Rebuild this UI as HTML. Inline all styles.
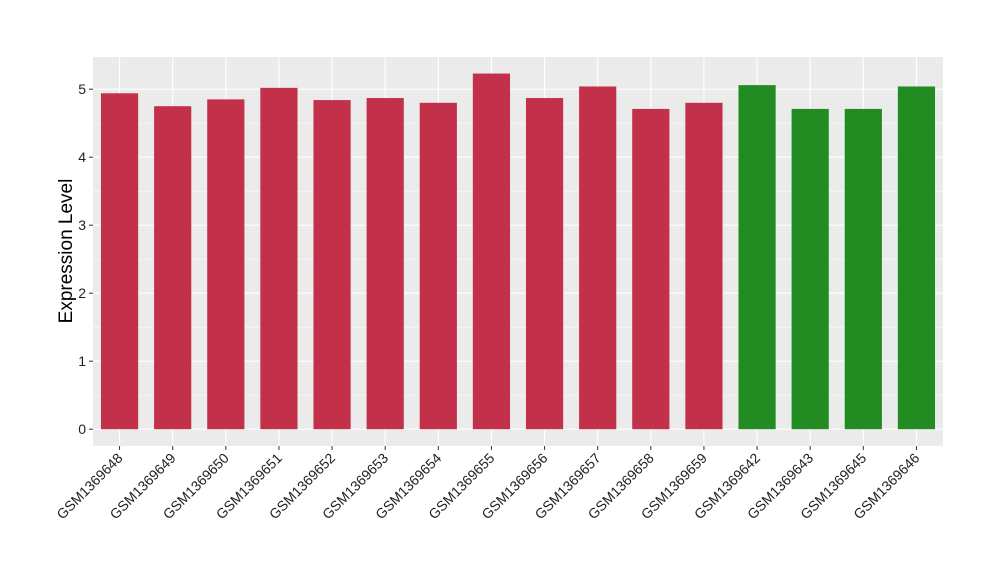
<!DOCTYPE html>
<html><head><meta charset="utf-8"><style>
body{margin:0;background:#fff;font-family:"Liberation Sans",Arial,sans-serif}
</style></head><body>
<svg id="chart" width="1000" height="580" xmlns="http://www.w3.org/2000/svg">
<rect x="93" y="57" width="850" height="389" fill="#ebebeb"/>
<g id="grid"></g><g id="bars"></g><g id="axes"></g>
<text transform="translate(72,251) rotate(-90)" text-anchor="middle" font-size="19" fill="#000">Expression Level</text>
</svg>
<script>
const categories=["GSM1369648","GSM1369649","GSM1369650","GSM1369651","GSM1369652","GSM1369653","GSM1369654","GSM1369655","GSM1369656","GSM1369657","GSM1369658","GSM1369659","GSM1369642","GSM1369643","GSM1369645","GSM1369646"];
const values=[4.94,4.75,4.85,5.02,4.84,4.87,4.80,5.23,4.87,5.04,4.71,4.80,5.06,4.71,4.71,5.04];
const groups=["a","a","a","a","a","a","a","a","a","a","a","a","b","b","b","b"];
const yTicks=[0,1,2,3,4,5];
const colors={a:"#c3304a",b:"#228b22"};
const NS="http://www.w3.org/2000/svg";
const L=93,R=943,T=57,B=446;
const y=v=>429.2-v*68;
const bw=(R-L)/categories.length;
const x=i=>L+bw*(i+0.5);
function mk(tag,attrs,parent){const e=document.createElementNS(NS,tag);for(const k in attrs)e.setAttribute(k,attrs[k]);parent.appendChild(e);return e;}
const grid=document.getElementById('grid'),bars=document.getElementById('bars'),axes=document.getElementById('axes');
yTicks.forEach((t,i)=>{
  const g=mk('line',{x1:L,x2:R,y1:y(t),y2:y(t),stroke:'#fff','stroke-width':1.1},grid);
  
  
  if(i<yTicks.length-1){const m=mk('line',{x1:L,x2:R,y1:y(t+0.5),y2:y(t+0.5),stroke:'#fff','stroke-width':0.5},grid);
  
  }
  const tk=mk('line',{x1:L-4,x2:L,y1:y(t),y2:y(t),stroke:'#333','stroke-width':1},axes);
  
  
  const tx=mk('text',{x:L-7,y:y(t)+5,'text-anchor':'end','font-size':14,fill:'#222'},axes);
  tx.textContent=t;
  
  
});
categories.forEach((c,i)=>{
  const g=mk('line',{x1:x(i),x2:x(i),y1:T,y2:B,stroke:'#fff','stroke-width':1.1},grid);
  
  
  const w=bw*0.7;
  const r=mk('rect',{x:x(i)-w/2,y:y(values[i]),width:w,height:y(0)-y(values[i]),fill:colors[groups[i]]},bars);
  
  
  const tk=mk('line',{x1:x(i),x2:x(i),y1:B,y2:B+4,stroke:'#333','stroke-width':1},axes);
  
  
  const tx=mk('text',{x:x(i)+4,y:B+13,'text-anchor':'end','font-size':14,fill:'#222',transform:`rotate(-45 ${x(i)+4} ${B+13})`},axes);
  tx.textContent=c;
  
  
});
</script>
</body></html>
